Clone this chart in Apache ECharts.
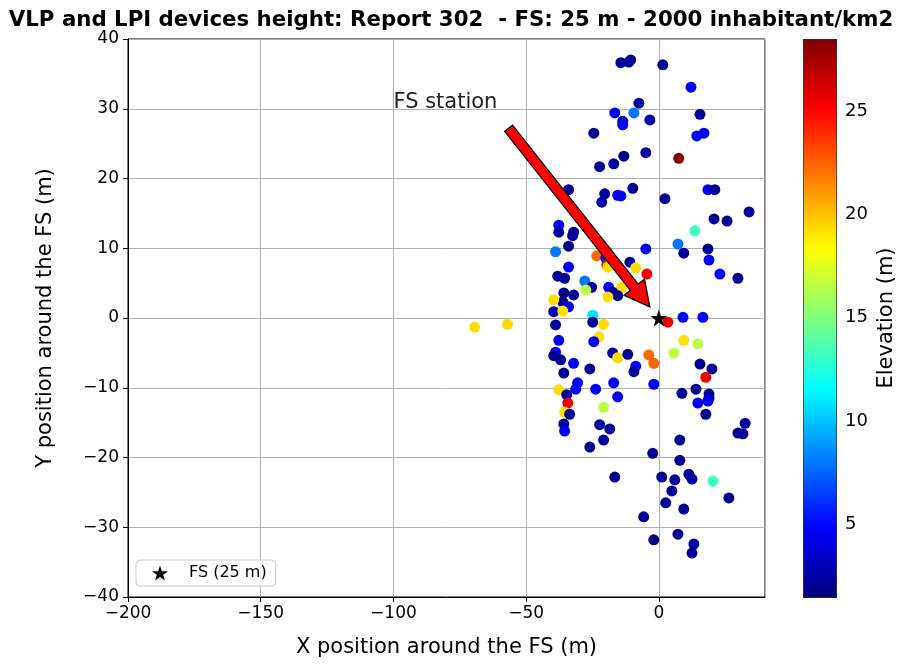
<!DOCTYPE html>
<html>
<head>
<meta charset="utf-8">
<script src="https://cdn.jsdelivr.net/npm/echarts@6/dist/echarts.min.js"></script>
<style>html,body{margin:0;padding:0;background:#fff}#c{width:902px;height:664px}</style>
</head>
<body>
<div id="c"></div>
<script>
// ---- data ----
const devX = [-14.3,-11.3,-10.6,1.5,12.1,-7.5,-16.6,-9.4,-3.4,-13.6,-13.6,-24.5,15.5,14.3,17.0,-4.9,-22.3,-17.0,-13.2,7.5,
  -34.0,-20.4,-21.5,-15.5,-14.3,-9.8,2.3,-37.7,-37.7,-32.1,-32.5,-34.0,-38.9,-4.9,-23.4,-20.0,-10.9,-19.6,-19.2,-8.7,
  -4.5,-34.0,-38.1,-35.5,-27.9,-25.3,-27.5,-18.9,-14.0,-17.4,-15.5,-19.2,-35.8,-32.1,-36.2,-39.6,-34.0,-39.6,-36.2,-24.9,
  -24.9,-20.8,-38.9,-69.4,-57.0,3.4,18.5,21.1,20.8,25.7,34.0,13.6,7.2,9.4,18.5,18.9,23.0,29.8,9.1,16.6,
  9.4,14.7,5.7,-3.8,-1.9,15.5,20.0,17.7,-1.9,8.7,14.0,18.9,18.9,14.7,18.5,17.7,32.5,-37.7,-22.6,-24.5,
  -38.9,-39.6,-37.0,-32.1,-17.4,-15.5,-11.7,-8.7,-9.4,-35.8,-26.0,-30.6,-31.3,-23.8,-17.0,-37.7,-34.7,-34.3,-15.5,-20.8,
  -35.5,-33.6,-35.8,-35.5,-22.3,-18.5,-20.8,-26.0,-2.3,-16.6,-5.7,-1.9,29.8,31.7,7.9,7.9,1.1,6.0,11.3,12.5,
  20.4,4.9,2.6,9.4,26.4,7.2,13.2,12.5];
const devY = [36.6,36.7,37.0,36.3,33.1,30.8,29.4,29.4,28.4,28.2,27.7,26.5,29.2,26.1,26.5,23.7,21.7,22.1,23.2,22.9,
  18.4,17.8,16.6,17.6,17.5,18.6,17.1,13.3,12.3,12.3,11.8,10.3,9.5,9.9,8.9,8.6,8.0,7.6,7.3,7.2,
  6.3,7.3,6.0,5.7,5.3,4.4,4.0,4.4,4.4,3.7,3.2,3.0,3.6,3.3,2.3,2.6,1.6,0.9,1.0,0.4,
  -0.6,-0.9,-1.0,-1.3,-0.9,-0.6,18.4,18.4,14.2,13.9,15.2,12.5,10.6,9.3,9.9,8.3,6.3,5.7,0.1,0.1,
  -3.2,-3.7,-5.0,-5.3,-6.5,-6.6,-7.3,-8.5,-9.5,-10.8,-10.2,-10.9,-11.5,-12.2,-11.9,-13.8,-15.1,-3.2,-2.7,-3.4,
  -4.9,-5.4,-6.0,-6.5,-5.0,-5.7,-5.2,-6.9,-7.7,-7.9,-7.3,-9.3,-10.2,-10.2,-9.3,-10.3,-11.0,-12.2,-11.3,-12.8,
  -13.5,-13.8,-15.2,-16.2,-15.3,-15.9,-17.5,-18.5,-19.4,-22.8,-28.5,-31.8,-16.5,-16.6,-17.5,-20.4,-22.8,-23.2,-22.4,-23.1,
  -23.4,-24.8,-26.5,-27.4,-25.8,-31.0,-32.4,-33.7];
const devElev = [2.1,1.8,2.3,2.0,4.8,2.2,4.8,8.0,2.4,2.0,4.9,1.9,2.2,4.7,4.8,2.1,2.0,2.3,1.8,28.3,
  2.0,2.2,2.4,4.8,4.9,2.1,1.9,4.8,2.2,2.0,2.3,1.8,8.1,4.8,22.3,4.5,2.1,25.6,19.2,19.3,
  25.5,4.8,2.0,2.2,8.0,2.1,16.5,4.8,19.2,2.3,2.0,19.3,1.9,2.2,2.1,19.2,4.8,2.4,19.1,10.8,
  2.0,19.3,2.2,19.2,19.4,25.6,4.8,2.1,2.0,2.2,2.3,13.2,8.0,2.1,2.0,4.8,4.9,2.2,4.8,4.8,
  19.2,16.5,16.6,22.3,22.5,2.0,2.1,25.6,4.8,2.2,2.0,2.3,2.1,4.8,4.7,2.0,2.2,4.8,19.2,4.8,
  4.8,1.9,2.1,4.8,2.2,19.3,2.0,4.8,2.2,2.1,2.0,4.8,4.8,4.7,4.8,19.2,2.2,25.6,4.8,16.5,
  19.2,2.0,2.1,4.8,2.3,2.0,2.2,1.9,2.1,2.0,2.2,1.5,2.1,2.0,2.2,2.3,1.9,2.1,2.0,2.2,
  13.2,2.0,2.1,2.2,1.9,2.0,2.3,2.1];
const fsPoint = [[0, 0]];
const fsName = 'FS (25 m)';
const arrowStart = [-56.6, 27.2];
const arrowTip = [-3.4, 1.6];
const annotationPos = [-100, 30];
const annotationText = 'FS station';
const xTicks = [-200, -150, -100, -50, 0];
const yTicks = [-40, -30, -20, -10, 0, 10, 20, 30, 40];
const cbTicks = [5, 10, 15, 20, 25];
const elevMin = 1.47, elevMax = 28.5;

const FONT = 'DejaVu Sans';
const jet = ['#00007f','#0000ff','#007fff','#00ffff','#7fff7f','#ffff00','#ff7f00','#ff0000','#7f0000'];
const starPath = 'path://M50,0 L61.8,35.1 L98.1,35.1 L68.8,56.7 L79.4,90.9 L50,69.1 L20.6,90.9 L31.2,56.7 L1.9,35.1 L38.2,35.1 Z';
const minus = v => String(v).replace('-', '\u2212');

const devData = devX.map((x, i) => [x, devY[i], devElev[i]]);

const chart = echarts.init(document.getElementById('c'), null, {renderer: 'canvas'});
chart.setOption({
  animation: false,
  backgroundColor: '#fff',
  textStyle: {fontFamily: FONT},
  title: {
    text: 'VLP and LPI devices height: Report 302  - FS: 25 m - 2000 inhabitant/km2',
    left: 'center', top: 5,
    textStyle: {fontFamily: FONT, fontWeight: 'bold', fontSize: 21.3, color: '#000'}
  },
  grid: [
    {left: 128, right: 137, top: 39, bottom: 67, show: true, borderColor: '#000', borderWidth: 1, backgroundColor: 'transparent'},
    {left: 803, top: 39, width: 33, height: 558, show: false}
  ],
  xAxis: [
    {type: 'value', gridIndex: 0, min: -200, max: 40, interval: 50,
     name: 'X position around the FS (m)', nameLocation: 'middle', nameGap: 40,
     nameTextStyle: {fontFamily: FONT, fontSize: 21, color: '#000'},
     axisLine: {show: true, onZero: false, lineStyle: {color: '#000'}},
     axisTick: {show: true, length: 5, lineStyle: {color: '#000'}},
     axisLabel: {fontFamily: FONT, fontSize: 17, color: '#000', margin: 8, formatter: minus, showMaxLabel: false},
     splitLine: {show: true, lineStyle: {color: '#b0b0b0', width: 1}}},
    {type: 'value', gridIndex: 1, min: 0, max: 1, show: false}
  ],
  yAxis: [
    {type: 'value', gridIndex: 0, min: -40, max: 40, interval: 10,
     name: 'Y position around the FS (m)', nameLocation: 'middle', nameGap: 72,
     nameTextStyle: {fontFamily: FONT, fontSize: 21, color: '#000'},
     axisLine: {show: true, onZero: false, lineStyle: {color: '#000'}},
     axisTick: {show: true, length: 5, lineStyle: {color: '#000'}},
     axisLabel: {fontFamily: FONT, fontSize: 17, color: '#000', margin: 9, formatter: minus},
     splitLine: {show: true, lineStyle: {color: '#b0b0b0', width: 1}}},
    {type: 'value', gridIndex: 1, min: elevMin, max: elevMax, position: 'right',
     name: 'Elevation (m)', nameLocation: 'middle', nameGap: 40, nameRotate: 90,
     nameTextStyle: {fontFamily: FONT, fontSize: 21, color: '#000'},
     axisLine: {show: false},
     axisTick: {show: true, length: 5, customValues: cbTicks, lineStyle: {color: '#000'}},
     axisLabel: {fontFamily: FONT, fontSize: 18, color: '#000', margin: 9, customValues: cbTicks},
     splitLine: {show: false}}
  ],
  visualMap: {
    type: 'continuous', seriesIndex: 0, dimension: 2,
    min: elevMin, max: elevMax, calculable: false, hoverLink: false,
    left: 803, top: 39, itemWidth: 33, itemHeight: 558, padding: 0,
    borderColor: '#000', borderWidth: 1,
    inRange: {color: jet}
  },
  legend: {
    data: [fsName], left: 136, top: 560, orient: 'horizontal',
    itemWidth: 16, itemHeight: 16, padding: [5, 9, 5, 16],
    borderColor: '#cccccc', borderWidth: 1, borderRadius: 4,
    backgroundColor: 'rgba(255,255,255,0.8)',
    textStyle: {fontFamily: FONT, fontSize: 16, color: '#000', padding: [0, 0, 0, 16]}
  },
  series: [
    {type: 'scatter', name: 'devices', xAxisIndex: 0, yAxisIndex: 0, data: devData,
     symbolSize: 11, itemStyle: {opacity: 1}, z: 2},
    {type: 'custom', name: 'arrow', xAxisIndex: 0, yAxisIndex: 0, data: [[0]], z: 4, silent: true,
     renderItem: function (params, api) {
       const p0 = api.coord(arrowStart), p1 = api.coord(arrowTip);
       const dx = p1[0] - p0[0], dy = p1[1] - p0[1];
       const L = Math.sqrt(dx * dx + dy * dy);
       const ux = dx / L, uy = dy / L, nx = -uy, ny = ux;
       const hw = 5, hh = 13, hl = 25;
       const bx = p1[0] - ux * hl, by = p1[1] - uy * hl;
       const pts = [
         [p0[0] + nx * hw, p0[1] + ny * hw],
         [bx + nx * hw, by + ny * hw],
         [bx + nx * hh, by + ny * hh],
         [p1[0], p1[1]],
         [bx - nx * hh, by - ny * hh],
         [bx - nx * hw, by - ny * hw],
         [p0[0] - nx * hw, p0[1] - ny * hw]
       ];
       const tp = api.coord(annotationPos);
       return {type: 'group', children: [
         {type: 'polygon', shape: {points: pts}, style: {fill: '#ff0000', stroke: '#000', lineWidth: 1.3}},
         {type: 'text', x: tp[0], y: tp[1] + 4, style: {text: annotationText, fontFamily: FONT, fontSize: 21,
           fill: '#222', align: 'left', verticalAlign: 'bottom'}}
       ]};
     }},
    {type: 'scatter', name: fsName, xAxisIndex: 0, yAxisIndex: 0, data: fsPoint,
     symbol: starPath, symbolSize: 17, itemStyle: {color: '#000', opacity: 1}, z: 5},
    {type: 'scatter', name: 'cb', xAxisIndex: 1, yAxisIndex: 1, data: [], silent: true}
  ]
});
</script>
</body>
</html>
